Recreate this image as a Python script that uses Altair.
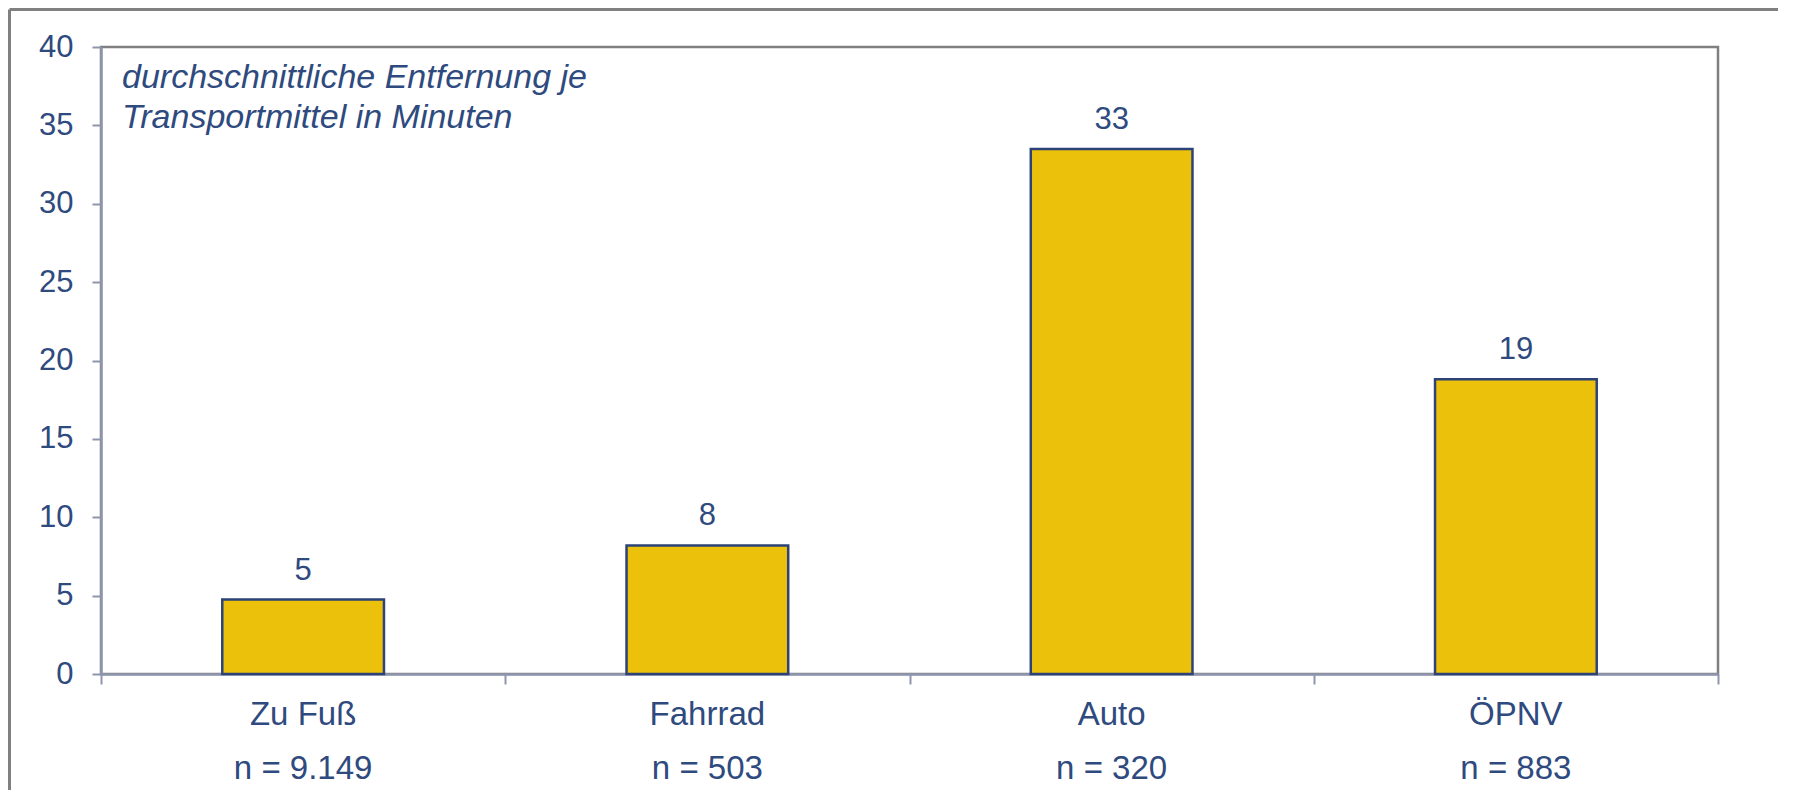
import altair as alt
import pandas as pd

# ---- data ----
categories = ["Zu Fuß", "Fahrrad", "Auto", "ÖPNV"]
sample_sizes = ["n = 9.149", "n = 503", "n = 320", "n = 883"]
values = [4.75, 8.2, 33.5, 18.8]
value_labels = ["5", "8", "33", "19"]
y_ticks = [0, 5, 10, 15, 20, 25, 30, 35, 40]
title_lines = ["durchschnittliche Entfernung je", "Transportmittel in Minuten"]

df = pd.DataFrame({
    "cat": [f"{c}|{n}" for c, n in zip(categories, sample_sizes)],
    "value": values,
    "label": value_labels,
})

W, H = 1617, 627
FONT = "Liberation Sans"
TEXT = "#2E4A7E"
AXIS = "#8E96AE"
FRAME = "#808080"
FILL = "#EBC10B"
STROKE = "#2D4377"

bar_scale = alt.Scale(paddingInner=0.6, paddingOuter=0.3)

x_bars = alt.X(
    "cat:N", sort=None, title=None, scale=bar_scale,
    axis=alt.Axis(
        orient="bottom", labelExpr="split(datum.label, '|')", labelAngle=0,
        labelFont=FONT, labelFontSize=33, labelColor=TEXT, labelLineHeight=54,
        labelBaseline="alphabetic", labelPadding=50, ticks=False,
        domainColor=AXIS, domainWidth=2.5,
    ),
)
x_text = alt.X("cat:N", sort=None, title=None, scale=bar_scale, axis=None)
x_ticks = alt.X(
    "cat:N", sort=None, title=None,
    scale=alt.Scale(paddingInner=0, paddingOuter=0),
    axis=alt.Axis(
        orient="bottom", labels=False, domain=False, tickBand="extent",
        tickSize=10, tickColor=AXIS, tickWidth=2,
    ),
)
y_enc = alt.Y(
    "value:Q", title=None,
    scale=alt.Scale(domain=[0, 40], nice=False),
    axis=alt.Axis(
        values=y_ticks, grid=False, labelFont=FONT, labelFontSize=31,
        labelColor=TEXT, labelPadding=19, tickSize=9, tickColor=AXIS,
        tickWidth=2, domainColor=AXIS, domainWidth=2.5,
    ),
)

base = alt.Chart(df)
bars = base.mark_bar(color=FILL, stroke=STROKE, strokeWidth=2.5).encode(x=x_bars, y=y_enc)
texts = base.mark_text(dy=-20, baseline="alphabetic", font=FONT, fontSize=31, color=TEXT).encode(
    x=x_text, y=y_enc, text="label:N"
)
tick_layer = base.mark_tick(opacity=0).encode(x=x_ticks)

one = pd.DataFrame({"k": [0]})
title = alt.Chart(one).mark_text(
    align="left", baseline="alphabetic", font=FONT, fontSize=34,
    fontStyle="italic", color=TEXT, lineHeight=40,
).encode(x=alt.value(21), y=alt.value(41), text=alt.value(title_lines))

frame_left = alt.Chart(one).mark_rule(color=FRAME, strokeWidth=3).encode(
    x=alt.value(-91.5), y=alt.value(-37.5), y2=alt.value(H + 140)
)
frame_top = alt.Chart(one).mark_rule(color=FRAME, strokeWidth=3).encode(
    x=alt.value(-91.5), x2=alt.value(W + 80), y=alt.value(-37.5)
)

chart = alt.layer(frame_left, frame_top, tick_layer, bars, texts, title).resolve_scale(
    x="independent"
).properties(
    width=W, height=H,
    padding={"left": 93, "top": 39, "right": 60, "bottom": 116},
    autosize=alt.AutoSizeParams(type="none"),
).configure_view(stroke=FRAME, strokeWidth=2.5)

chart.save("out.html", embed_options={"renderer": "svg", "actions": False})
